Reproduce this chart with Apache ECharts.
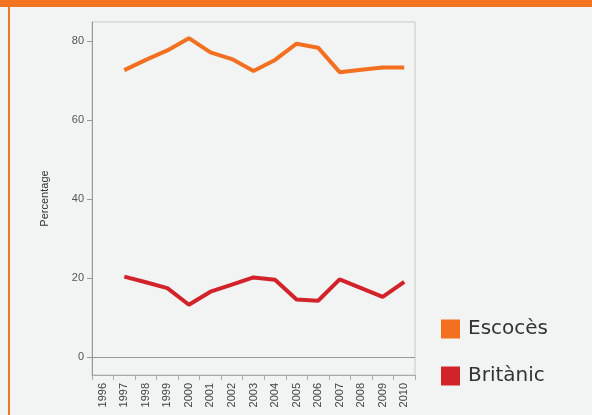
<!DOCTYPE html>
<html>
<head>
<meta charset="utf-8">
<script src="https://cdn.jsdelivr.net/npm/echarts@6/dist/echarts.min.js"></script>
<style>
html,body{margin:0;padding:0;background:#f2f3f3;}
#c{width:592px;height:415px;}
</style>
</head>
<body>
<div id="c"></div>
<script>
var years = ['1996','1997','1998','1999','2000','2001','2002','2003','2004','2005','2006','2007','2008','2009','2010'];
var escoces = [null, 72.6, 75.2, 77.6, 80.7, 77.1, 75.4, 72.4, 75.2, 79.3, 78.3, 72.1, 72.7, 73.3, 73.3];
var britanic = [null, 20.3, 18.9, 17.4, 13.2, 16.5, 18.3, 20.1, 19.5, 14.5, 14.2, 19.6, 17.4, 15.2, 19.0];
var yTicks = [0, 20, 40, 60, 80];
var seriesNames = ['Escocès', 'Britànic'];

var chart = echarts.init(document.getElementById('c'), null, {renderer: 'canvas'});
var axisFont = 'Liberation Sans, Arial, sans-serif';
chart.setOption({
  backgroundColor: '#f2f3f3',
  animation: false,
  color: ['#f37021', '#d2232a'],
  graphic: [
    {type: 'rect', shape: {x: 0, y: 0, width: 592, height: 7}, style: {fill: '#f47521'}, z: 10},
    {type: 'rect', shape: {x: 8, y: 0, width: 2, height: 415}, style: {fill: '#f47521'}, z: 10}
  ],
  grid: {left: 92, top: 22, right: 177, bottom: 40, show: true, borderColor: '#c8c8c8', borderWidth: 1, backgroundColor: 'transparent'},
  legend: {
    orient: 'vertical', left: 441, top: 319, padding: 0, itemWidth: 19, itemHeight: 19, itemGap: 27,
    icon: 'rect',
    data: seriesNames,
    textStyle: {fontFamily: 'DejaVu Sans', fontSize: 20, color: '#333', padding: [0, 0, 0, 3]}
  },
  xAxis: {
    type: 'category', data: years, boundaryGap: true,
    axisLine: {show: true, onZero: false, lineStyle: {color: '#aaa'}},
    axisTick: {show: true, length: 5, lineStyle: {color: '#aaa'}},
    axisLabel: {rotate: 90, interval: 0, fontSize: 11, fontFamily: axisFont, color: '#444', margin: 8}
  },
  yAxis: {
    type: 'value', min: -4.6, max: 84.8,
    name: 'Percentage', nameLocation: 'middle', nameRotate: 90, nameGap: 42,
    nameTextStyle: {fontSize: 11, fontFamily: axisFont, color: '#333'},
    axisLine: {show: true, lineStyle: {color: '#999'}},
    axisTick: {show: true, length: 5, customValues: yTicks, lineStyle: {color: '#999'}},
    axisLabel: {customValues: yTicks, fontSize: 11, fontFamily: axisFont, color: '#555', margin: 8},
    splitLine: {show: false}
  },
  series: [
    {name: seriesNames[0], type: 'line', data: escoces, symbol: 'none', lineStyle: {width: 4},
     markLine: {silent: true, symbol: 'none', label: {show: false}, lineStyle: {color: '#999', width: 1, type: 'solid'}, data: [{yAxis: 0}]}},
    {name: seriesNames[1], type: 'line', data: britanic, symbol: 'none', lineStyle: {width: 4}}
  ]
});
</script>
</body>
</html>
